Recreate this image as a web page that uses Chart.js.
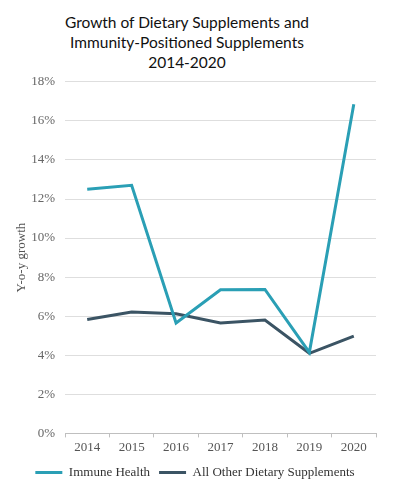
<!DOCTYPE html>
<html>
<head>
<meta charset="utf-8">
<script src="https://cdn.jsdelivr.net/npm/chart.js@4"></script>
<style>
  html, body { margin: 0; padding: 0; background: #fff; }
  #title {
    width: 394px; height: 64px; box-sizing: border-box;
    padding: 12px 20px 0 0;
    font-family: Lato, "Open Sans", sans-serif; font-size: 15.5px; line-height: 20px;
    color: #111; text-align: center;
  }
  #wrap { width: 394px; height: 428px; position: relative; }
</style>
</head>
<body>
<div id="title">Growth of Dietary Supplements and<br>Immunity-Positioned Supplements<br>2014-2020</div>
<div id="wrap"><canvas id="growth"></canvas></div>
<script>
// years on the x axis
const years = ['2014', '2015', '2016', '2017', '2018', '2019', '2020'];
// y-o-y growth in %
const immuneHealth = [12.5, 12.7, 5.65, 7.35, 7.37, 4.15, 16.85];
const otherSupplements = [5.83, 6.22, 6.13, 5.65, 5.8, 4.1, 4.98];

const colorImmune = '#2A9FB5';
const colorOther = '#3B5464';
const serif = "'Liberation Serif', 'DejaVu Serif', serif";

new Chart(document.getElementById('growth'), {
    type: 'line',
    data: {
        labels: years,
        datasets: [
            {
                label: 'Immune Health',
                data: immuneHealth,
                borderColor: colorImmune,
                backgroundColor: colorImmune,
                borderWidth: 3,
                pointRadius: 0,
                tension: 0,
            },
            {
                label: 'All Other Dietary Supplements',
                data: otherSupplements,
                borderColor: colorOther,
                backgroundColor: colorOther,
                borderWidth: 3,
                pointRadius: 0,
                tension: 0,
            },
        ],
    },
    options: {
        responsive: true,
        maintainAspectRatio: false,
        animation: false,
        layout: { padding: { top: 2, right: 18, left: 14, bottom: 3 } },
        plugins: {
            title: { display: false },
            tooltip: { enabled: false },
            legend: {
                position: 'bottom',
                labels: {
                    usePointStyle: true,
                    pointStyle: 'line',
                    pointStyleWidth: 27,
                    padding: 9,
                    color: '#333',
                    font: { family: serif, size: 13 },
                },
            },
        },
        scales: {
            x: {
                offset: true,
                grid: {
                    offset: true,
                    drawOnChartArea: false,
                    tickLength: 4,
                    color: '#bfbfbf',
                },
                border: { color: '#bfbfbf' },
                ticks: { color: '#555', padding: 2, font: { family: serif, size: 13 } },
            },
            y: {
                min: 0,
                max: 18,
                afterFit: s => { s.width = 51; },
                ticks: {
                    stepSize: 2,
                    padding: 10,
                    color: '#666',
                    font: { family: serif, size: 13 },
                    callback: v => v + '%',
                },
                grid: { color: '#dedede', drawTicks: false },
                border: { display: false },
                title: {
                    display: true,
                    text: 'Y-o-y growth',
                    color: '#555',
                    font: { family: serif, size: 13 },
                    padding: { top: 0, bottom: 0 },
                },
            },
        },
    },
});
</script>
</body>
</html>
